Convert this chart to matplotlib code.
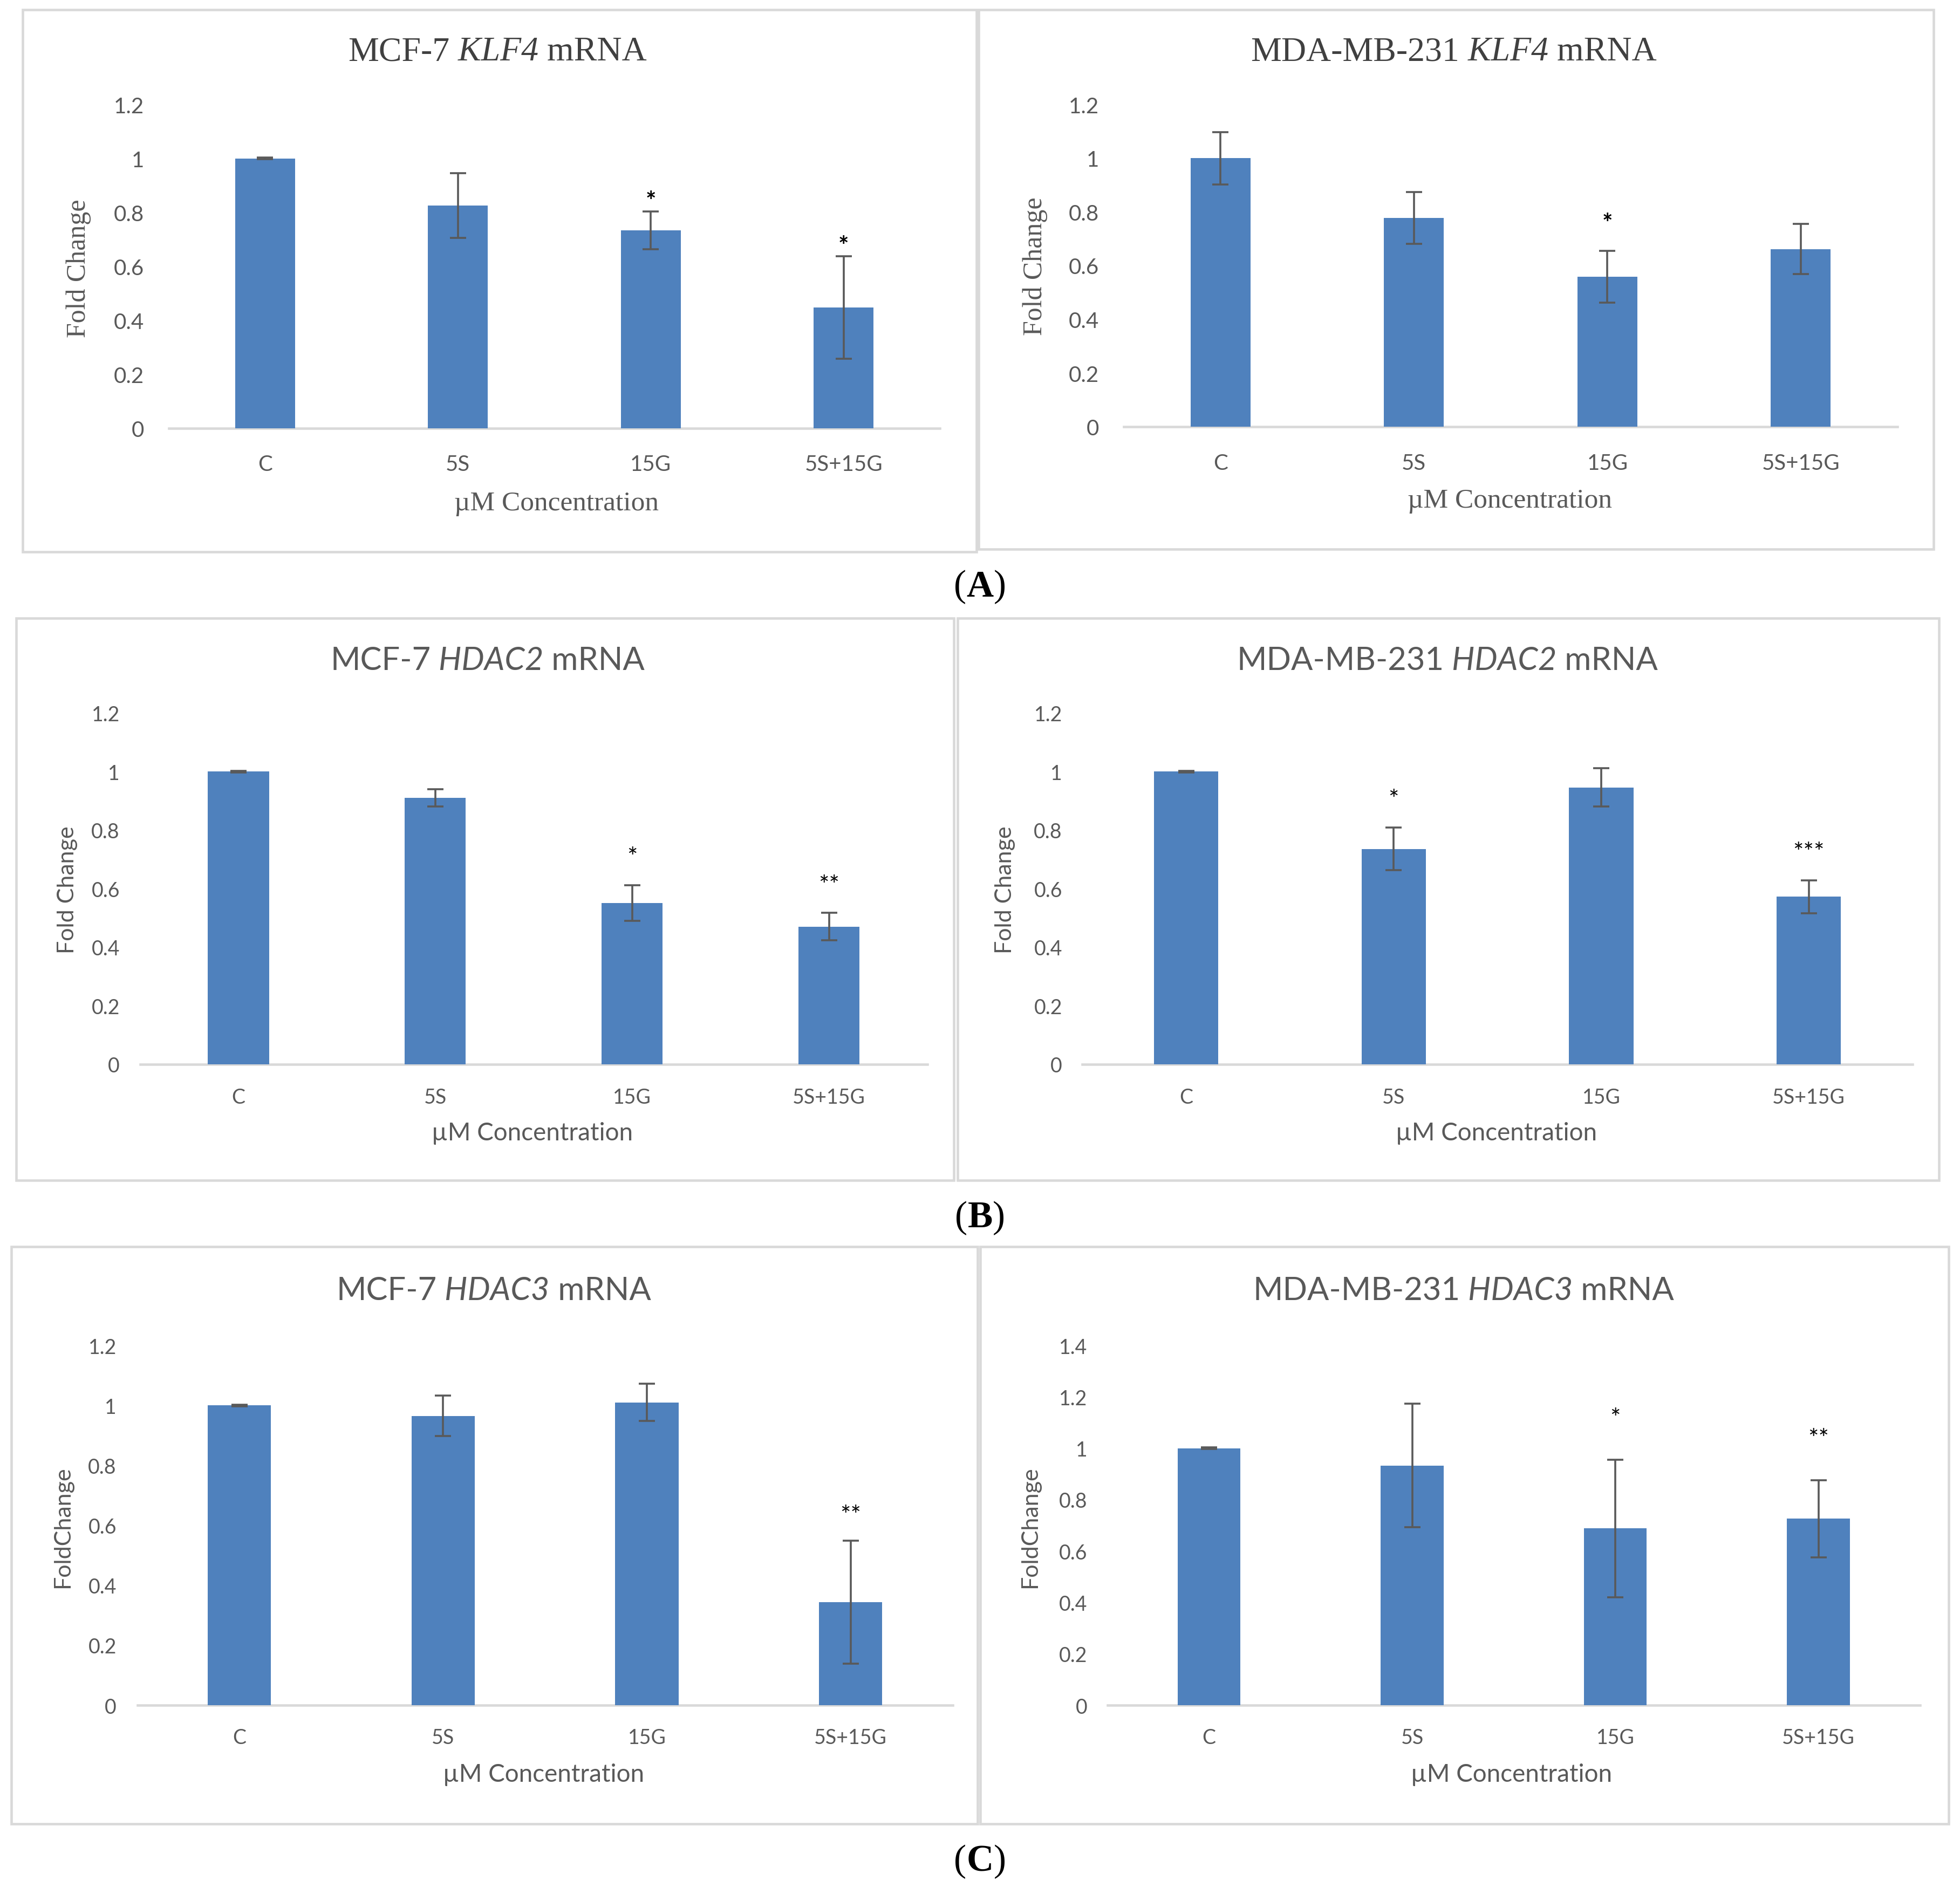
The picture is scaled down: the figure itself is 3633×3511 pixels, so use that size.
import matplotlib
matplotlib.use('Agg')
import matplotlib.pyplot as plt
import numpy as np
from matplotlib.patches import Rectangle

# data
groups = ['C', '5S', '15G', '5S+15G']

mcf7_klf4 = [1.0, 0.825, 0.733, 0.447]
mcf7_klf4_err = [0.003, 0.12, 0.07, 0.19]
mcf7_klf4_sig = ['', '', '*', '*']

mda_klf4 = [1.0, 0.777, 0.559, 0.662]
mda_klf4_err = [0.097, 0.096, 0.097, 0.094]
mda_klf4_sig = ['', '', '*', '']

mcf7_hdac2 = [1.0, 0.91, 0.551, 0.470]
mcf7_hdac2_err = [0.003, 0.03, 0.061, 0.047]
mcf7_hdac2_sig = ['', '', '*', '**']

mda_hdac2 = [1.0, 0.736, 0.946, 0.572]
mda_hdac2_err = [0.003, 0.073, 0.066, 0.057]
mda_hdac2_sig = ['', '*', '', '***']

mcf7_hdac3 = [1.0, 0.965, 1.01, 0.344]
mcf7_hdac3_err = [0.003, 0.068, 0.062, 0.205]
mcf7_hdac3_sig = ['', '', '', '**']

mda_hdac3 = [1.0, 0.933, 0.688, 0.726]
mda_hdac3_err = [0.003, 0.24, 0.268, 0.15]
mda_hdac3_sig = ['', '', '*', '**']

BAR = '#4f81bd'
GRID = '#d9d9d9'
TXT = '#595959'
SERIF = 'Liberation Serif'
SANS = 'Lato'

# layout is measured in pixels of a 1568 x 1516 copy of the reference
RW, RH = 1568.0, 1516.0


def fx(x):
    return x / RW


def fy(y):
    return 1 - y / RH


fig = plt.figure(figsize=(36.33, 35.12), dpi=100)
bg = fig.add_axes([0, 0, 1, 1], zorder=-5)
bg.axis('off')
bg.set_xlim(0, 1)
bg.set_ylim(0, 1)

chains = []


def rich_text(cx, cy, pieces, size, color):
    # pieces: list of (text, family, style, weight); centred at (cx, cy)
    first = None
    prev = None
    arts = []
    for txt, fam, style, weight in pieces:
        if prev is None:
            t = bg.text(fx(cx), fy(cy), txt, transform=fig.transFigure,
                        ha='left', va='center', fontsize=size, color=color,
                        family=fam, style=style, weight=weight)
            first = t
        else:
            t = bg.annotate(txt, xy=(1, 0), xycoords=prev, ha='left', va='bottom',
                            fontsize=size, color=color, family=fam, style=style,
                            weight=weight)
        arts.append(t)
        prev = t
    chains.append((cx, first, arts))


def panel(box, axrect, vals, errs, sig, ymax, title, ylab, ylab_pos, xlab_pos,
          serif, star_gap, ypad, xpad):
    x0, y0, x1, y1 = box
    bg.add_patch(Rectangle((fx(x0), fy(y1)), fx(x1) - fx(x0), fy(y0) - fy(y1),
                           transform=fig.transFigure, fill=False,
                           edgecolor=GRID, lw=3.3))
    l, t, r, b = axrect
    ax = fig.add_axes([fx(l), fy(b), fx(r) - fx(l), fy(t) - fy(b)])
    x = np.arange(len(groups))
    ax.bar(x, vals, width=0.31, color=BAR, zorder=2,
           yerr=errs, error_kw=dict(ecolor='#595959', elinewidth=2.6,
                                    capsize=11, capthick=2.6, zorder=3))
    ax.set_xlim(-0.5, 3.5)
    ax.set_ylim(0, ymax)
    ticks = np.round(np.arange(0, ymax + 0.001, 0.2), 1)
    ax.set_yticks(ticks)
    ax.set_yticklabels(['%g' % v for v in ticks])
    ax.set_xticks(x)
    ax.set_xticklabels(groups)
    for s in ['top', 'right', 'left']:
        ax.spines[s].set_visible(False)
    ax.spines['bottom'].set_color(GRID)
    ax.spines['bottom'].set_linewidth(3.3)
    ax.spines['bottom'].set_zorder(1)
    ax.tick_params(axis='both', length=0, labelsize=29 if serif else 27, labelcolor=TXT)
    ax.tick_params(axis='y', pad=ypad)
    ax.tick_params(axis='x', pad=xpad)
    for lbl in ax.get_xticklabels() + ax.get_yticklabels():
        lbl.set_family(SANS)
    ax.patch.set_alpha(0)

    for i, s in enumerate(sig):
        if s:
            ax.annotate(s, xy=(i, vals[i] + errs[i]), xytext=(0, star_gap - 18),
                        textcoords='offset points', ha='center', va='baseline',
                        fontsize=33, color='black', family=SANS,
                        weight='bold' if serif else 'normal')

    fam = SERIF if serif else SANS
    rich_text(title[0], title[1], title[2], 46 if serif else 43, '#404040' if serif else TXT)
    bg.text(fx(ylab_pos[0]), fy(ylab_pos[1]), ylab, transform=fig.transFigure,
            rotation=90, ha='center', va='center', fontsize=36 if serif else 31,
            color=TXT, family=fam)
    bg.text(fx(xlab_pos[0]), fy(xlab_pos[1]), '\u00b5M Concentration',
            transform=fig.transFigure, ha='center', va='center',
            fontsize=37 if serif else 33, color=TXT, family=fam)
    return ax


def tpieces(cell, gene, fam):
    return [(cell, fam, 'normal', 'normal'), (' ' + gene, fam, 'italic', 'normal'),
            (' mRNA', fam, 'normal', 'normal')]


# (A) KLF4
panel((18, 8, 781, 442), (135, 84, 752, 343), mcf7_klf4, mcf7_klf4_err, mcf7_klf4_sig,
      1.2, (398, 42, tpieces('MCF-7', 'KLF4', SERIF)), 'Fold Change', (63, 215), (445, 403),
      True, 22, 33, 35)
panel((783, 8, 1547, 440), (899, 84, 1518, 342), mda_klf4, mda_klf4_err, mda_klf4_sig,
      1.2, (1163, 42, tpieces('MDA-MB-231', 'KLF4', SERIF)), 'Fold Change', (828, 213), (1208, 401),
      True, 44, 33, 35)

# (B) HDAC2
panel((13, 495, 763, 945), (112, 571, 742, 852), mcf7_hdac2, mcf7_hdac2_err, mcf7_hdac2_sig,
      1.2, (390, 529, tpieces('MCF-7', 'HDAC2', SANS)), 'Fold Change', (54, 712), (426, 907),
      False, 45, 27, 31)
panel((766, 495, 1551, 945), (866, 571, 1530, 852), mda_hdac2, mda_hdac2_err, mda_hdac2_sig,
      1.2, (1158, 529, tpieces('MDA-MB-231', 'HDAC2', SANS)), 'Fold Change', (804, 712), (1197, 907),
      False, 45, 27, 31)

# (C) HDAC3
panel((9, 998, 782, 1460), (110, 1077, 762, 1365), mcf7_hdac3, mcf7_hdac3_err, mcf7_hdac3_sig,
      1.2, (395, 1033, tpieces('MCF-7', 'HDAC3', SANS)), 'FoldChange', (50, 1222), (435, 1420),
      False, 42, 28, 30)
panel((784, 998, 1559, 1460), (886, 1077, 1536, 1365), mda_hdac3, mda_hdac3_err, mda_hdac3_sig,
      1.4, (1171, 1033, tpieces('MDA-MB-231', 'HDAC3', SANS)), 'FoldChange', (824, 1222), (1209, 1420),
      False, 63, 27, 30)

# panel letters
for letter, yy in [('A', 470), ('B', 975), ('C', 1490)]:
    rich_text(784, yy, [('(', SERIF, 'normal', 'normal'), (letter, SERIF, 'normal', 'bold'),
                        (')', SERIF, 'normal', 'normal')], 50, 'black')

# centre the multi-style texts
fig.canvas.draw()
r = fig.canvas.get_renderer()
W = fig.bbox.width
for cx, first, arts in chains:
    x_left = min(a.get_window_extent(r).x0 for a in arts)
    x_right = max(a.get_window_extent(r).x1 for a in arts)
    shift = (cx / RW) * W - (x_left + x_right) / 2
    px, py = first.get_position()
    first.set_position((px + shift / W, py))

fig.savefig('out.png', dpi=100, facecolor='white')
